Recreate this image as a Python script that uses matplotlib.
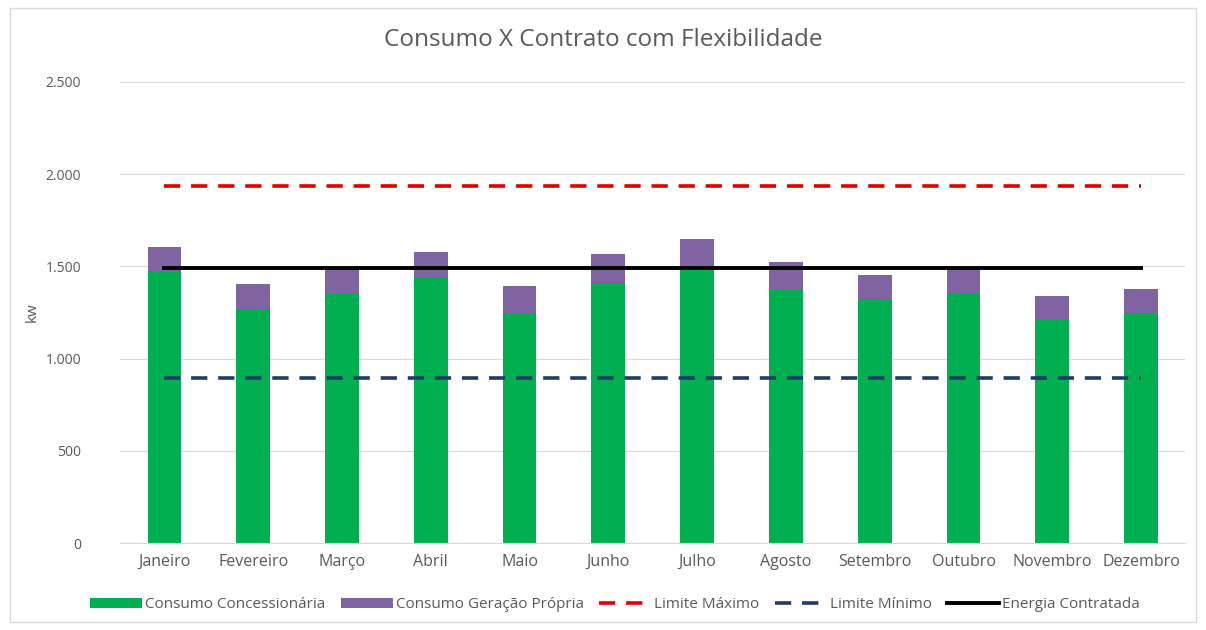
import numpy as np
from matplotlib import pyplot as plt
from matplotlib.patches import Rectangle

plt.rcParams['font.family'] = ['Open Sans', 'DejaVu Sans']

meses = ['Janeiro', 'Fevereiro', 'Março', 'Abril', 'Maio', 'Junho', 'Julho',
         'Agosto', 'Setembro', 'Outubro', 'Novembro', 'Dezembro']
concessionaria = [1470, 1269, 1349, 1439, 1242, 1408, 1480, 1372, 1318, 1349, 1213, 1242]
geracao = [137, 134, 136, 141, 154, 158, 167, 152, 134, 136, 125, 137]
limite_max = [1937] * 12
limite_min = [894] * 12
contratada = [1490] * 12
yticks = [0, 500, 1000, 1500, 2000, 2500]
ytick_labels = ['0', '500', '1.000', '1.500', '2.000', '2.500']

fig = plt.figure(figsize=(12.06, 6.3), dpi=100)
ax = fig.add_axes([0.0995, 0.138, 0.8835, 0.732])

x = np.arange(len(meses))
b1 = ax.bar(x, concessionaria, width=0.38, color='#00B050', label='Consumo Concessionária', zorder=2)
b2 = ax.bar(x, geracao, width=0.38, bottom=concessionaria, color='#8064A2',
            label='Consumo Geração Própria', zorder=2)
l1, = ax.plot(x, limite_max, color='#E00000', lw=2.6, dashes=(4.5, 3), label='Limite Máximo', zorder=3)
l2, = ax.plot(x, limite_min, color='#1F3D64', lw=2.6, dashes=(4.5, 3), label='Limite Mínimo', zorder=3)
l3, = ax.plot(x, contratada, color='black', lw=2.8, label='Energia Contratada', zorder=3)

ax.set_xlim(-0.5, 11.5)
ax.set_ylim(0, 2500)
ax.set_yticks(yticks)
ax.set_yticklabels(ytick_labels)
ax.set_xticks(x)
ax.set_xticklabels(meses)
ax.grid(axis='y', color='#D9D9D9', lw=0.8, zorder=0)
for s in ax.spines.values():
    s.set_visible(False)
ax.spines['bottom'].set_visible(True)
ax.spines['bottom'].set_color('#D9D9D9')
ax.tick_params(length=0, colors='#595959')
ax.tick_params(axis='x', pad=8, labelsize=11.5)
ax.tick_params(axis='y', pad=28, labelsize=10)
ax.set_ylabel('kw', color='#595959', fontsize=11)
ax.yaxis.set_label_coords(-0.075, 0.5)

fig.suptitle('Consumo X Contrato com Flexibilidade', y=0.955, fontsize=17.5, color='#595959')
fig.legend(handles=[b1, b2, l1, l2, l3], loc='center', bbox_to_anchor=(0.51, 0.04), ncol=5,
           frameon=False, fontsize=11, labelcolor='#595959', handlelength=3.4,
           handletextpad=0.2, columnspacing=1.0)

fig.patches.append(Rectangle((0.008, 0.013), 0.984, 0.974, transform=fig.transFigure,
                             fill=False, edgecolor='#D9D9D9', lw=1))

fig.savefig('out.png', dpi=100)
